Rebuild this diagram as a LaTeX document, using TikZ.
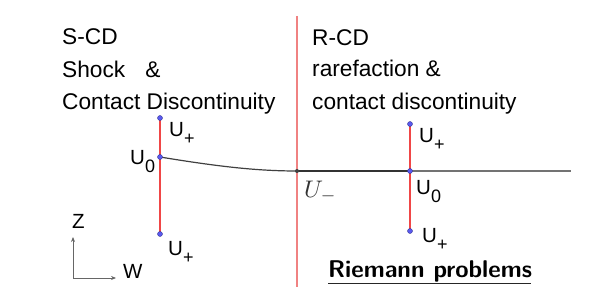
\documentclass[tikz,border=0pt]{standalone}
\usepackage{fontspec}
\setmainfont{Liberation Sans}
\usetikzlibrary{arrows.meta}
\definecolor{redline}{RGB}{240,70,70}
\definecolor{pinkline}{RGB}{240,130,130}
\definecolor{ptblue}{RGB}{90,90,240}
\newcommand\subl[1]{\raisebox{-8pt}{\fontsize{18}{18}\selectfont #1}}
\begin{document}
\begin{tikzpicture}[x=1pt,y=-1pt,
  txt/.style={anchor=base west,inner sep=0pt,font=\fontsize{22.7}{27}\selectfont},
  lab/.style={anchor=base west,inner sep=0pt,font=\fontsize{20.5}{24}\selectfont},
  dotpt/.style={circle,fill=ptblue,draw=ptblue!60!black,line width=0.4pt,inner sep=0pt,minimum size=5pt},
  darkpt/.style={circle,fill=black!75,inner sep=0pt,minimum size=4pt},
  redseg/.style={draw=redline,line width=2pt},
  axis/.style={draw=black!60,line width=0.8pt,-{Stealth[length=5pt,width=4pt]}}]
\useasboundingbox (0,0) rectangle (604,304);
% coordinates
\coordinate (Ltop) at (160,118);
\coordinate (L0) at (160,157);
\coordinate (Lbot) at (160,234);
\coordinate (Um) at (297,171);
\coordinate (Rtop) at (410,124);
\coordinate (R0) at (410,171);
\coordinate (Rbot) at (410,231);
\coordinate (Rend) at (571,171);
\coordinate (Mtop) at (297,16);
\coordinate (Mbot) at (297,287);
\coordinate (O) at (73,278);
\coordinate (Zend) at (73,237);
\coordinate (Wend) at (116,278);
% middle line
\draw[draw=pinkline,line width=1.6pt] (Mtop) -- (Mbot);
% curves
\draw[black!75,line width=1.2pt] (L0) .. controls (215,166) and (255,171) .. (Um);
\draw[black!80,line width=2pt] (Um) -- (R0);
\draw[black!55,line width=1.5pt] (R0) -- (Rend);
% red segments
\draw[redseg] (Ltop) -- (Lbot);
\draw[redseg] (Rtop) -- (Rbot);
% points
\node[dotpt] at (Ltop) {};
\node[dotpt] at (L0) {};
\node[dotpt] at (Lbot) {};
\node[dotpt] at (Rtop) {};
\node[dotpt] at (R0) {};
\node[dotpt] at (Rbot) {};
\node[darkpt] at (Um) {};
% axes
\draw[axis] (O) -- (Zend);
\draw[axis] (O) -- (Wend);
\node[lab] (Z) at (72,228) {Z};
\node[lab] (W) at (123,278) {W};
% texts
\node[txt] (t1) at (62,45) {S-CD};
\node[txt] (t2) at (62,78) {Shock\hspace{20pt}\&};
\node[txt] (t3) at (62,110) {Contact Discontinuity};
\node[txt] (t4) at (312,46) {R-CD};
\node[txt] (t5) at (312,77) {rarefaction \&};
\node[txt] (t6) at (312,110) {contact discontinuity};
% labels
\node[lab] (lLt) at (169,137) {U\subl{+}};
\node[lab] (lL0) at (130,165) {U\subl{0}};
\node[lab] (lLb) at (168,255) {U\subl{+}};
\node[lab] (lRt) at (419,143) {U\subl{+}};
\node[lab] (lR0) at (416,195) {U\subl{0}};
\node[lab] (lRb) at (422,242) {U\subl{+}};
\node[anchor=base west,inner sep=0pt,text=black!80] (lUm) at (304,197) {\scalebox{2.4}{$U_-$}};
% title
\node[anchor=base west,inner sep=0pt,font=\fontsize{24.2}{28}\selectfont\sffamily\bfseries] (rp) at (328,277) {Riemann problems};
\coordinate (ulA) at (328,283.5);
\coordinate (ulB) at (531,283.5);
\draw[black!85,line width=1.2pt] (ulA) -- (ulB);
\end{tikzpicture}
\end{document}
